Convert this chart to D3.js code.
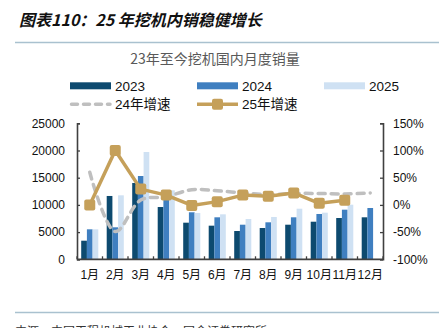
<!DOCTYPE html>
<html><head><meta charset="utf-8">
<script src="https://cdn.jsdelivr.net/npm/d3@7"></script>
<style>
html,body{margin:0;padding:0;background:#fff;overflow:hidden}
svg{display:block}
</style></head>
<body><svg id="c" width="439" height="328"></svg>
<script>
const months = ["1月","2月","3月","4月","5月","6月","7月","8月","9月","10月","11月","12月"];
const sales2023 = [3420, 11640, 14030, 9610, 6730, 6180, 5200, 5750, 6360, 6910, 7590, 7720];
const sales2024 = [5510, 5880, 15310, 11000, 8640, 7720, 6360, 6800, 7720, 8330, 9120, 9430];
const sales2025 = [5510, 11760, 19720, 12680, 8510, 8270, 7410, 7780, 9300, 8570, 10040];
const growth2024 = [60, -49, 9, 15, 28, 26, 22, 19, 21, 21, 20, 22];
const growth2025 = [0, 100, 29, 18, -1, 6, 18, 16, 22, 3, 8.5];
const leftTicks = [0, 5000, 10000, 15000, 20000, 25000];
const rightTicks = [-100, -50, 0, 50, 100, 150];
const seriesNames = ["2023", "2024", "2025"];
const seriesColors = ["#0d4a6f", "#3f7fc0", "#cfe1f3"];

const svg = d3.select("#c");
const F = "'Liberation Sans', Arial, 'Noto Sans CJK SC', sans-serif";
const CJK = "'Noto Sans CJK SC', 'Liberation Sans', sans-serif";

// title
svg.append("text").attr("x", 19).attr("y", 26)
  .attr("font-family", CJK).attr("font-size", 16).attr("font-weight", "bold")
  .attr("font-style", "italic").attr("fill", "#111")
  .text("图表110：25 年挖机内销稳健增长");
svg.append("line").attr("x1", 15).attr("x2", 439).attr("y1", 42.5).attr("y2", 42.5)
  .attr("stroke", "#a9c1cf").attr("stroke-width", 1.5);

// subtitle
svg.append("text").attr("x", 215).attr("y", 64).attr("text-anchor", "middle")
  .attr("font-family", CJK).attr("font-size", 14).attr("fill", "#595959")
  .text("23年至今挖机国内月度销量");

// plot geometry
const L = 77, R = 383, T = 123.3, B = 259.3;
const x = d3.scaleBand().domain(months).range([L, R]).paddingInner(0.33).paddingOuter(0.165);
const xs = d3.scaleBand().domain(seriesNames).range([0, x.bandwidth()]);
const y = d3.scaleLinear().domain([0, 25000]).range([B, T]);
const y2 = d3.scaleLinear().domain([-100, 150]).range([B, T]);

const allSales = [sales2023, sales2024, sales2025];
allSales.forEach((arr, si) => {
  svg.append("g").selectAll("rect").data(arr).join("rect")
    .attr("x", (d, i) => x(months[i]) + xs(seriesNames[si]))
    .attr("width", xs.bandwidth())
    .attr("y", d => y(d))
    .attr("height", d => B - y(d))
    .attr("fill", seriesColors[si]);
});

// axes
const axL = svg.append("g").attr("transform", `translate(${L},0)`)
  .call(d3.axisLeft(y).tickValues(leftTicks).tickSize(-3).tickPadding(12).tickFormat(d3.format("d")));
const axR = svg.append("g").attr("transform", `translate(${R},0)`)
  .call(d3.axisRight(y2).tickValues(rightTicks).tickSize(-3).tickPadding(10).tickFormat(d => d + "%"));
[axL, axR].forEach(a => {
  a.select(".domain").attr("stroke", "#404040").attr("stroke-width", 1.6);
  a.selectAll(".tick line").attr("stroke", "#404040").attr("stroke-width", 1.3);
  a.selectAll(".tick text").attr("font-family", F).attr("font-size", 12).attr("fill", "#111");
});
// bottom axis
const step = x.step();
const bx = svg.append("g");
bx.append("line").attr("x1", L).attr("x2", R).attr("y1", B).attr("y2", B)
  .attr("stroke", "#404040").attr("stroke-width", 1.8);
bx.selectAll("line.t").data(d3.range(months.length + 1)).join("line").attr("class", "t")
  .attr("x1", i => L + i * step).attr("x2", i => L + i * step)
  .attr("y1", B).attr("y2", B - 3).attr("stroke", "#404040").attr("stroke-width", 1.3);
bx.selectAll("text").data(months).join("text")
  .attr("x", d => x(d) + x.bandwidth() / 2).attr("y", 279)
  .attr("text-anchor", "middle").attr("font-family", F).attr("font-size", 12).attr("fill", "#111")
  .text(d => d);

const cx = i => x(months[i]) + x.bandwidth() / 2;

// 24 growth dashed smooth line
svg.append("path").datum(growth2024)
  .attr("d", d3.line().x((d, i) => cx(i)).y(d => y2(d)).curve(d3.curveCatmullRom.alpha(0.5)))
  .attr("fill", "none").attr("stroke", "#bfbfbf").attr("stroke-width", 3.5)
  .attr("stroke-dasharray", "7,6").attr("stroke-linecap", "round");

// 25 growth line + markers
const gold = "#c5a05a";
svg.append("path").datum(growth2025)
  .attr("d", d3.line().x((d, i) => cx(i)).y(d => y2(d)))
  .attr("fill", "none").attr("stroke", gold).attr("stroke-width", 3.5).attr("stroke-linejoin", "round");
svg.append("g").selectAll("rect").data(growth2025).join("rect")
  .attr("x", (d, i) => cx(i) - 5.5).attr("y", d => y2(d) - 5.5)
  .attr("width", 11).attr("height", 11).attr("rx", 2)
  .attr("fill", gold);

// legend
const lg = svg.append("g");
const legX = [70, 197, 324];
seriesNames.forEach((n, i) => {
  lg.append("rect").attr("x", legX[i]).attr("y", 82.3).attr("width", 41).attr("height", 7).attr("fill", seriesColors[i]);
  lg.append("text").attr("x", legX[i] + 45).attr("y", 90.8).attr("font-family", F)
    .attr("font-size", 13.5).attr("fill", "#111").text(n);
});
lg.append("line").attr("x1", 71.5).attr("x2", 110).attr("y1", 104.3).attr("y2", 104.3)
  .attr("stroke", "#bfbfbf").attr("stroke-width", 3.5).attr("stroke-dasharray", "6,6").attr("stroke-linecap", "round");
lg.append("text").attr("x", 115).attr("y", 109.3).attr("font-family", F)
  .attr("font-size", 13.5).attr("fill", "#111").text("24年增速");
lg.append("line").attr("x1", 197).attr("x2", 238).attr("y1", 104.3).attr("y2", 104.3)
  .attr("stroke", gold).attr("stroke-width", 3.5);
lg.append("rect").attr("x", 212).attr("y", 98.8).attr("width", 11).attr("height", 11).attr("rx", 2).attr("fill", gold);
lg.append("text").attr("x", 242).attr("y", 109.3).attr("font-family", F)
  .attr("font-size", 13.5).attr("fill", "#111").text("25年增速");

// footer
svg.append("line").attr("x1", 15).attr("x2", 439).attr("y1", 312.5).attr("y2", 312.5)
  .attr("stroke", "#a9c1cf").attr("stroke-width", 1.5);
svg.append("text").attr("x", 15).attr("y", 336).attr("font-family", CJK)
  .attr("font-size", 12).attr("fill", "#333")
  .text("来源：中国工程机械工业协会，国金证券研究所");
</script></body></html>
